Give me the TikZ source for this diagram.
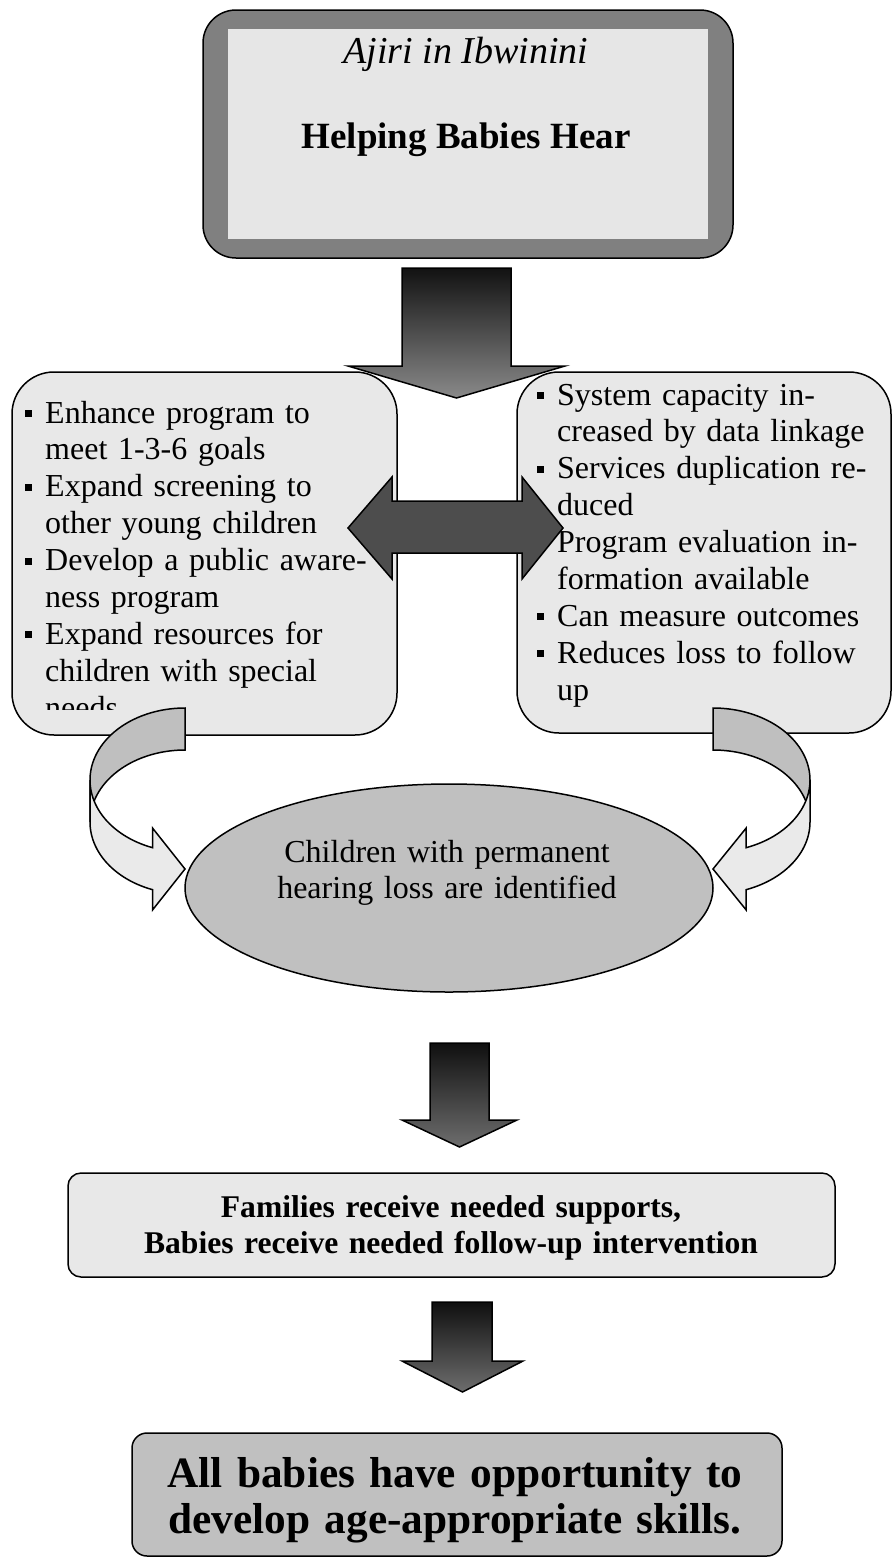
\documentclass[tikz,border=0pt]{standalone}
\usepackage{fontspec}
\setmainfont{Liberation Serif}
\usepackage{tikz}
\usetikzlibrary{shapes.geometric}
\usetikzlibrary{positioning}

\definecolor{boxgray}{HTML}{E8E8E8}
\definecolor{framegray}{HTML}{808080}
\definecolor{innergray}{HTML}{E6E6E6}
\definecolor{ovalgray}{HTML}{C0C0C0}
\definecolor{darkarrow}{HTML}{4D4D4D}
\definecolor{ribbonback}{HTML}{BFBFBF}
\definecolor{ribbonfront}{HTML}{EAEAEA}

\newcommand{\bul}{\makebox[20pt][l]{\raisebox{6pt}{\rule{7pt}{7pt}}}}
\newcommand{\ind}{\hspace*{20pt}}

\begin{document}
\begin{tikzpicture}[x=1pt,y=-1pt,
    outline/.style={draw=black, line width=1.5pt},
    sidebox/.style={outline, fill=boxgray, rounded corners=42pt, inner sep=0pt},
    listtext/.style={inner sep=0pt, anchor=base west, text width=360pt, align=left,
      font=\fontsize{32}{36.9}\selectfont},
    boldtext/.style={inner sep=0pt, anchor=base, align=center, font=\bfseries}]
    \useasboundingbox (0,0) rectangle (893,1558);

    % title box
    \node[outline, fill=framegray, rounded corners=33pt, minimum width=530pt,
      minimum height=248pt, inner sep=0pt] (titlebox) at (468,134) {};
    \node[fill=innergray, minimum width=480pt, minimum height=210pt, inner sep=0pt]
      (titleinner) at (titlebox.center) {};
    \node[inner sep=0pt, anchor=base, font=\fontsize{38}{42}\selectfont\itshape]
      (place) at (466,63) {Ajiri in Ibwinini};
    \node[inner sep=0pt, anchor=base, font=\fontsize{37}{42}\selectfont\bfseries]
      (title) at (466,148) {Helping Babies Hear};

    % side boxes
    \node[sidebox, minimum width=385pt, minimum height=363pt] (leftbox) at (204.5,553.5) {};
    \node[sidebox, minimum width=374pt, minimum height=361pt] (rightbox) at (704,552.5) {};

    % A1
    \draw[outline, top color=black!93, bottom color=black!46]
      (402,268) -- (511,268) -- (511,366) -- (565,366) -- (456.5,398)
      -- (348,366) -- (402,366) -- cycle;

    % left list
    \begin{scope}
      \clip (0,380) rectangle (400,709);
      \node[listtext] (leftlist) at (25,423) {%
        \bul Enhance program to\\
        \ind meet 1-3-6 goals\\
        \bul Expand screening to\\
        \ind other young children\\
        \bul Develop a public aware-\\
        \ind ness program\\
        \bul Expand resources for\\
        \ind children with special\\
        \ind needs};
    \end{scope}

    % right list
    \node[listtext] (rightlist) at (537,405) {%
      \bul System capacity in-\\
      \ind creased by data linkage\\
      \bul Services duplication re-\\
      \ind duced\\
      \bul Program evaluation in-\\
      \ind formation available\\
      \bul Can measure outcomes\\
      \bul Reduces loss to follow\\
      \ind up};

    % A2 (both ways)
    \draw[outline, fill=darkarrow]
      (348,528) -- (392,477) -- (392,501) -- (522,501) -- (522,477) -- (563,528)
      -- (522,579) -- (522,553) -- (392,553) -- (392,579) -- cycle;

    % ribbons
    \draw[outline, fill=ribbonback, samples=40]
      plot[domain=90:180, variable=\t] ({185+95*cos(\t)},{780-72*sin(\t)})
      -- plot[domain=180:90, variable=\t] ({185+95*cos(\t)},{822-72*sin(\t)}) -- cycle;
    \draw[outline, fill=ribbonfront, samples=40]
      plot[domain=180:250, variable=\t] ({185+95*cos(\t)},{780-72*sin(\t)})
      -- (152.5,828) -- (185,869) -- (152.5,910)
      -- plot[domain=250:180, variable=\t] ({185+95*cos(\t)},{822-72*sin(\t)}) -- cycle;

    \draw[outline, fill=ribbonback, samples=40]
      plot[domain=90:180, variable=\t] ({713-97*cos(\t)},{780-72*sin(\t)})
      -- plot[domain=180:90, variable=\t] ({713-97*cos(\t)},{822-72*sin(\t)}) -- cycle;
    \draw[outline, fill=ribbonfront, samples=40]
      plot[domain=180:250, variable=\t] ({713-97*cos(\t)},{780-72*sin(\t)})
      -- (746.2,828) -- (713,869) -- (746.2,910)
      -- plot[domain=250:180, variable=\t] ({713-97*cos(\t)},{822-72*sin(\t)}) -- cycle;

    % oval
    \node[ellipse, outline, fill=ovalgray, minimum width=528pt, minimum height=208pt,
      inner sep=0pt] (ident) at (449,888) {};
    \node[inner sep=0pt, anchor=base, text width=440pt, align=center,
      font=\fontsize{32}{36}\selectfont] (identtext) at (447,862)
      {Children with permanent\\hearing loss are identified};

    % A3
    \draw[outline, top color=black!94, bottom color=black!57]
      (430,1043) -- (489,1043) -- (489,1120) -- (517,1120) -- (459.5,1147)
      -- (402,1120) -- (430,1120) -- cycle;

    % supports box
    \node[outline, fill=boxgray, rounded corners=13pt, minimum width=767pt,
      minimum height=104pt, inner sep=0pt] (supports) at (451.5,1225) {};
    \node[boldtext, text width=740pt, font=\fontsize{31.6}{36}\selectfont\bfseries]
      (supportstext) at (451,1217)
      {Families receive needed supports,\\Babies receive needed follow-up intervention};

    % A4
    \draw[outline, top color=black!94, bottom color=black!57]
      (432,1302) -- (492,1302) -- (492,1361) -- (523,1361) -- (462.5,1392)
      -- (402,1361) -- (432,1361) -- cycle;

    % goal box
    \node[outline, fill=ovalgray, rounded corners=15pt, minimum width=650pt,
      minimum height=123pt, inner sep=0pt] (goal) at (457,1494.5) {};
    \node[boldtext, text width=640pt, font=\fontsize{43.3}{46}\selectfont\bfseries]
      (goaltext) at (455,1487)
      {All babies have opportunity to\\develop age-appropriate skills.};
\end{tikzpicture}
\end{document}
